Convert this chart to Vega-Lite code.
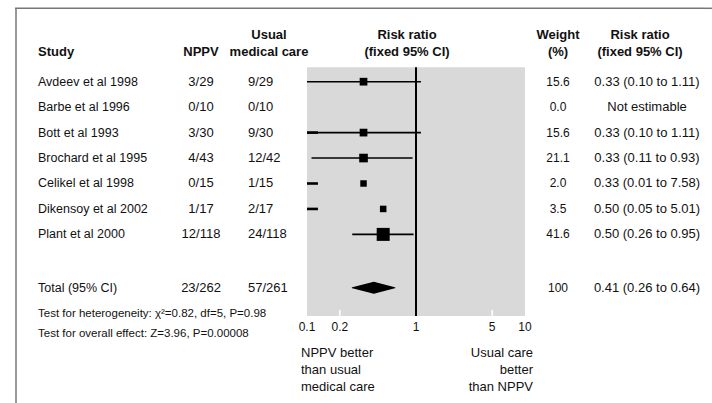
{
  "$schema": "https://vega.github.io/schema/vega-lite/v6.json",
  "padding": {"left": 14, "top": 0, "right": 0, "bottom": 0},
  "spacing": 0,
  "bounds": "flush",
  "config": {
    "view": {"stroke": null},
    "text": {"font": "Liberation Sans", "fontSize": 13, "color": "#111111"}
  },
  "datasets": {
    "studies": [
      {"study": "Avdeev et al 1998", "nppv": "3/29", "usual": "9/29", "weight": 15.6, "wt": "15.6", "rr": 0.33, "lo": 0.10, "hi": 1.11, "ci": "0.33 (0.10 to 1.11)", "row": 0, "line": true, "arrow": false, "total": false},
      {"study": "Barbe et al 1996", "nppv": "0/10", "usual": "0/10", "weight": 0, "wt": "0.0", "rr": null, "lo": null, "hi": null, "ci": "Not estimable", "row": 1, "line": false, "arrow": false, "total": false},
      {"study": "Bott et al 1993", "nppv": "3/30", "usual": "9/30", "weight": 15.6, "wt": "15.6", "rr": 0.33, "lo": 0.10, "hi": 1.11, "ci": "0.33 (0.10 to 1.11)", "row": 2, "line": true, "arrow": true, "total": false},
      {"study": "Brochard et al 1995", "nppv": "4/43", "usual": "12/42", "weight": 21.1, "wt": "21.1", "rr": 0.33, "lo": 0.11, "hi": 0.93, "ci": "0.33 (0.11 to 0.93)", "row": 3, "line": true, "arrow": false, "total": false},
      {"study": "Celikel et al 1998", "nppv": "0/15", "usual": "1/15", "weight": 2.0, "wt": "2.0", "rr": 0.33, "lo": 0.01, "hi": 7.58, "ci": "0.33 (0.01 to 7.58)", "row": 4, "line": false, "arrow": true, "total": false},
      {"study": "Dikensoy et al 2002", "nppv": "1/17", "usual": "2/17", "weight": 3.5, "wt": "3.5", "rr": 0.50, "lo": 0.05, "hi": 5.01, "ci": "0.50 (0.05 to 5.01)", "row": 5, "line": false, "arrow": true, "total": false},
      {"study": "Plant et al 2000", "nppv": "12/118", "usual": "24/118", "weight": 41.6, "wt": "41.6", "rr": 0.50, "lo": 0.26, "hi": 0.95, "ci": "0.50 (0.26 to 0.95)", "row": 6, "line": true, "arrow": false, "total": false},
      {"study": "Total (95% CI)", "nppv": "23/262", "usual": "57/261", "weight": 100, "wt": "100", "rr": 0.41, "lo": 0.26, "hi": 0.64, "ci": "0.41 (0.26 to 0.64)", "row": 8.1, "line": false, "arrow": false, "total": true}
    ],
    "ticks": [{"t": 0.1}, {"t": 0.2}, {"t": 1}, {"t": 5}, {"t": 10}]
  },
  "hconcat": [
    {
      "width": 2, "height": 403,
      "data": {"values": [{}]},
      "layer": [
        {"mark": {"type": "rule", "color": "#777777", "strokeWidth": 1.5},
         "encoding": {"y": {"datum": -2.884, "type": "quantitative", "scale": {"domain": [-3.21, 12.625], "reverse": true, "nice": false, "zero": false}, "axis": null}, "y2": {"datum": 12.625}}},
        {"mark": {"type": "rule", "color": "#777777", "strokeWidth": 1.5},
         "encoding": {"y": {"datum": -2.884, "type": "quantitative", "scale": {"domain": [-3.21, 12.625], "reverse": true, "nice": false, "zero": false}, "axis": null}}}
      ]
    },
    {
      "width": 42, "height": 403,
      "layer": [
        {"data": {"values": [{}]}, "mark": {"type": "rule", "color": "#777777", "strokeWidth": 1.5},
         "encoding": {"y": {"datum": -2.884, "type": "quantitative", "scale": {"domain": [-3.21, 12.625], "reverse": true, "nice": false, "zero": false}, "axis": null}}},
        {"data": {"values": [{"h": "Study"}]},
         "mark": {"type": "text", "align": "left", "baseline": "alphabetic", "fontWeight": "bold", "fontSize": 13},
         "encoding": {"text": {"field": "h", "type": "nominal"}, "y": {"datum": -0.99, "type": "quantitative", "scale": {"domain": [-3.21, 12.625], "reverse": true, "nice": false, "zero": false}, "axis": null}}},
        {"data": {"name": "studies"},
         "mark": {"type": "text", "align": "left", "baseline": "middle", "fontSize": 12.5},
         "encoding": {"text": {"field": "study", "type": "nominal"}, "y": {"field": "row", "type": "quantitative", "scale": {"domain": [-3.21, 12.625], "reverse": true, "nice": false, "zero": false}, "axis": null}}},
        {"data": {"values": [
          {"note": "Test for heterogeneity: χ²=0.82, df=5, P=0.98", "row": 9.147},
          {"note": "Test for overall effect: Z=3.96, P=0.00008", "row": 9.914}
         ]},
         "mark": {"type": "text", "align": "left", "baseline": "middle", "fontSize": 11.5},
         "encoding": {"text": {"field": "note", "type": "nominal"}, "y": {"field": "row", "type": "quantitative", "scale": {"domain": [-3.21, 12.625], "reverse": true, "nice": false, "zero": false}, "axis": null}}}
      ]
    },
    {
      "width": 119, "height": 403,
      "data": {"values": [{}]},
      "mark": {"type": "rule", "color": "#777777", "strokeWidth": 1.5},
      "encoding": {"y": {"datum": -2.884, "type": "quantitative", "scale": {"domain": [-3.21, 12.625], "reverse": true, "nice": false, "zero": false}, "axis": null}}
    },
    {
      "width": 46, "height": 403,
      "layer": [
        {"data": {"values": [{}]}, "mark": {"type": "rule", "color": "#777777", "strokeWidth": 1.5},
         "encoding": {"y": {"datum": -2.884, "type": "quantitative", "scale": {"domain": [-3.21, 12.625], "reverse": true, "nice": false, "zero": false}, "axis": null}}},
        {"data": {"values": [{"h": "NPPV"}]},
         "mark": {"type": "text", "align": "center", "baseline": "alphabetic", "fontWeight": "bold", "fontSize": 13},
         "encoding": {"text": {"field": "h", "type": "nominal"}, "y": {"datum": -0.99, "type": "quantitative", "scale": {"domain": [-3.21, 12.625], "reverse": true, "nice": false, "zero": false}, "axis": null}}},
        {"data": {"name": "studies"},
         "mark": {"type": "text", "align": "center", "baseline": "middle", "fontSize": 13},
         "encoding": {"text": {"field": "nppv", "type": "nominal"}, "y": {"field": "row", "type": "quantitative", "scale": {"domain": [-3.21, 12.625], "reverse": true, "nice": false, "zero": false}, "axis": null}}}
      ]
    },
    {
      "width": 48, "height": 403,
      "layer": [
        {"data": {"values": [{}]}, "mark": {"type": "rule", "color": "#777777", "strokeWidth": 1.5},
         "encoding": {"y": {"datum": -2.884, "type": "quantitative", "scale": {"domain": [-3.21, 12.625], "reverse": true, "nice": false, "zero": false}, "axis": null}}},
        {"data": {"values": [{"h": "Usual\nmedical care"}]},
         "mark": {"type": "text", "align": "center", "baseline": "alphabetic", "fontWeight": "bold", "fontSize": 13, "lineBreak": "\n", "lineHeight": 17, "dx": 21},
         "encoding": {"text": {"field": "h", "type": "nominal"}, "y": {"datum": -1.658, "type": "quantitative", "scale": {"domain": [-3.21, 12.625], "reverse": true, "nice": false, "zero": false}, "axis": null}}},
        {"data": {"name": "studies"},
         "mark": {"type": "text", "align": "left", "baseline": "middle", "fontSize": 13},
         "encoding": {"text": {"field": "usual", "type": "nominal"}, "y": {"field": "row", "type": "quantitative", "scale": {"domain": [-3.21, 12.625], "reverse": true, "nice": false, "zero": false}, "axis": null}}}
      ]
    },
    {
      "width": 35, "height": 403,
      "data": {"values": [{}]},
      "mark": {"type": "rule", "color": "#777777", "strokeWidth": 1.5},
      "encoding": {"y": {"datum": -2.884, "type": "quantitative", "scale": {"domain": [-3.21, 12.625], "reverse": true, "nice": false, "zero": false}, "axis": null}}
    },
    {
      "width": 218, "height": 403,
      "layer": [
        {"data": {"values": [{}]}, "mark": {"type": "rect", "color": "#d9d9d9"},
         "encoding": {
           "x": {"datum": 0.1, "type": "quantitative", "scale": {"type": "log", "domain": [0.1, 10], "nice": false, "clamp": true}, "axis": null},
           "x2": {"datum": 10},
           "y": {"datum": -0.566, "type": "quantitative", "scale": {"domain": [-3.21, 12.625], "reverse": true, "nice": false, "zero": false}, "axis": null},
           "y2": {"datum": 9.206}}},
        {"data": {"values": [{}]}, "mark": {"type": "rule", "color": "#777777", "strokeWidth": 1.5},
         "encoding": {"y": {"datum": -2.884, "type": "quantitative", "scale": {"domain": [-3.21, 12.625], "reverse": true, "nice": false, "zero": false}, "axis": null}}},
        {"data": {"name": "ticks"},
         "transform": [{"filter": "datum.t != 0.1 && datum.t != 1 && datum.t != 10"}],
         "mark": {"type": "rule", "color": "#ffffff", "strokeWidth": 1.5},
         "encoding": {
           "x": {"field": "t", "type": "quantitative", "scale": {"type": "log", "domain": [0.1, 10], "nice": false, "clamp": true}, "axis": null},
           "y": {"datum": 8.97, "type": "quantitative", "scale": {"domain": [-3.21, 12.625], "reverse": true, "nice": false, "zero": false}, "axis": null},
           "y2": {"datum": 9.206}}},
        {"data": {"name": "studies"},
         "transform": [{"filter": "datum.line"}],
         "mark": {"type": "rule", "color": "#000000", "strokeWidth": 1.6},
         "encoding": {
           "x": {"field": "lo", "type": "quantitative", "scale": {"type": "log", "domain": [0.1, 10], "nice": false, "clamp": true}, "axis": null},
           "x2": {"field": "hi"},
           "y": {"field": "row", "type": "quantitative", "scale": {"domain": [-3.21, 12.625], "reverse": true, "nice": false, "zero": false}, "axis": null}}},
        {"data": {"name": "studies"},
         "transform": [{"filter": "datum.arrow"}],
         "mark": {"type": "rule", "color": "#000000", "strokeWidth": 2.6},
         "encoding": {
           "x": {"datum": 0.1, "type": "quantitative", "scale": {"type": "log", "domain": [0.1, 10], "nice": false, "clamp": true}, "axis": null},
           "x2": {"datum": 0.126},
           "y": {"field": "row", "type": "quantitative", "scale": {"domain": [-3.21, 12.625], "reverse": true, "nice": false, "zero": false}, "axis": null}}},
        {"data": {"name": "studies"},
         "transform": [{"filter": "datum.rr != null && !datum.total"}],
         "mark": {"type": "point", "shape": "square", "filled": true, "color": "#000000", "opacity": 1},
         "encoding": {
           "x": {"field": "rr", "type": "quantitative", "scale": {"type": "log", "domain": [0.1, 10], "nice": false, "clamp": true}, "axis": null},
           "y": {"field": "row", "type": "quantitative", "scale": {"domain": [-3.21, 12.625], "reverse": true, "nice": false, "zero": false}, "axis": null},
           "size": {"field": "weight", "type": "quantitative", "scale": {"type": "pow", "exponent": 2, "domain": [2, 41.6], "range": [42, 169]}, "legend": null}}},
        {"data": {"name": "studies"},
         "transform": [{"filter": "datum.total"}, {"fold": ["lo", "rr", "hi"], "as": ["key", "value"]}],
         "mark": {"type": "trail", "color": "#000000"},
         "encoding": {
           "x": {"field": "value", "type": "quantitative", "scale": {"type": "log", "domain": [0.1, 10], "nice": false, "clamp": true}, "axis": null},
           "y": {"field": "row", "type": "quantitative", "scale": {"domain": [-3.21, 12.625], "reverse": true, "nice": false, "zero": false}, "axis": null},
           "order": {"field": "value", "type": "quantitative"},
           "size": {"condition": {"test": "datum.key === 'rr'", "value": 12}, "value": 0}}},
        {"data": {"values": [{}]}, "mark": {"type": "rule", "color": "#000000", "strokeWidth": 2},
         "encoding": {
           "x": {"datum": 1, "type": "quantitative", "scale": {"type": "log", "domain": [0.1, 10], "nice": false, "clamp": true}, "axis": null},
           "y": {"datum": -0.566, "type": "quantitative", "scale": {"domain": [-3.21, 12.625], "reverse": true, "nice": false, "zero": false}, "axis": null},
           "y2": {"datum": 9.206}}},
        {"data": {"values": [{"h": "Risk ratio\n(fixed 95% CI)"}]},
         "mark": {"type": "text", "align": "center", "baseline": "alphabetic", "fontWeight": "bold", "fontSize": 13, "lineBreak": "\n", "lineHeight": 17, "dx": -9},
         "encoding": {"text": {"field": "h", "type": "nominal"}, "y": {"datum": -1.658, "type": "quantitative", "scale": {"domain": [-3.21, 12.625], "reverse": true, "nice": false, "zero": false}, "axis": null}}},
        {"data": {"name": "ticks"},
         "mark": {"type": "text", "align": "center", "baseline": "middle", "fontSize": 12},
         "encoding": {
           "text": {"field": "t", "type": "quantitative", "format": "~g"},
           "x": {"field": "t", "type": "quantitative", "scale": {"type": "log", "domain": [0.1, 10], "nice": false, "clamp": true}, "axis": null},
           "y": {"datum": 9.627, "type": "quantitative", "scale": {"domain": [-3.21, 12.625], "reverse": true, "nice": false, "zero": false}, "axis": null}}},
        {"data": {"values": [{"h": "NPPV better\nthan usual\nmedical care"}]},
         "mark": {"type": "text", "align": "left", "baseline": "alphabetic", "fontSize": 13, "lineBreak": "\n", "lineHeight": 17, "dx": -6},
         "encoding": {
           "text": {"field": "h", "type": "nominal"},
           "x": {"datum": 0.1, "type": "quantitative", "scale": {"type": "log", "domain": [0.1, 10], "nice": false, "clamp": true}, "axis": null},
           "y": {"datum": 10.8, "type": "quantitative", "scale": {"domain": [-3.21, 12.625], "reverse": true, "nice": false, "zero": false}, "axis": null}}},
        {"data": {"values": [{"h": "Usual care\nbetter\nthan NPPV"}]},
         "mark": {"type": "text", "align": "right", "baseline": "alphabetic", "fontSize": 13, "lineBreak": "\n", "lineHeight": 17, "dx": 8},
         "encoding": {
           "text": {"field": "h", "type": "nominal"},
           "x": {"datum": 10, "type": "quantitative", "scale": {"type": "log", "domain": [0.1, 10], "nice": false, "clamp": true}, "axis": null},
           "y": {"datum": 10.8, "type": "quantitative", "scale": {"domain": [-3.21, 12.625], "reverse": true, "nice": false, "zero": false}, "axis": null}}}
      ]
    },
    {
      "width": 66, "height": 403,
      "layer": [
        {"data": {"values": [{}]}, "mark": {"type": "rule", "color": "#777777", "strokeWidth": 1.5},
         "encoding": {"y": {"datum": -2.884, "type": "quantitative", "scale": {"domain": [-3.21, 12.625], "reverse": true, "nice": false, "zero": false}, "axis": null}}},
        {"data": {"values": [{"h": "Weight\n(%)"}]},
         "mark": {"type": "text", "align": "center", "baseline": "alphabetic", "fontWeight": "bold", "fontSize": 13, "lineBreak": "\n", "lineHeight": 17},
         "encoding": {"text": {"field": "h", "type": "nominal"}, "y": {"datum": -1.658, "type": "quantitative", "scale": {"domain": [-3.21, 12.625], "reverse": true, "nice": false, "zero": false}, "axis": null}}},
        {"data": {"name": "studies"},
         "mark": {"type": "text", "align": "center", "baseline": "middle", "fontSize": 12},
         "encoding": {"text": {"field": "wt", "type": "nominal"}, "y": {"field": "row", "type": "quantitative", "scale": {"domain": [-3.21, 12.625], "reverse": true, "nice": false, "zero": false}, "axis": null}}}
      ]
    },
    {
      "width": 112, "height": 403,
      "layer": [
        {"data": {"values": [{}]}, "mark": {"type": "rule", "color": "#777777", "strokeWidth": 1.5},
         "encoding": {"y": {"datum": -2.884, "type": "quantitative", "scale": {"domain": [-3.21, 12.625], "reverse": true, "nice": false, "zero": false}, "axis": null}}},
        {"data": {"values": [{"h": "Risk ratio\n(fixed 95% CI)"}]},
         "mark": {"type": "text", "align": "center", "baseline": "alphabetic", "fontWeight": "bold", "fontSize": 13, "lineBreak": "\n", "lineHeight": 17, "dx": -7},
         "encoding": {"text": {"field": "h", "type": "nominal"}, "y": {"datum": -1.658, "type": "quantitative", "scale": {"domain": [-3.21, 12.625], "reverse": true, "nice": false, "zero": false}, "axis": null}}},
        {"data": {"name": "studies"},
         "mark": {"type": "text", "align": "center", "baseline": "middle", "fontSize": 13},
         "encoding": {"text": {"field": "ci", "type": "nominal"}, "y": {"field": "row", "type": "quantitative", "scale": {"domain": [-3.21, 12.625], "reverse": true, "nice": false, "zero": false}, "axis": null}}}
      ]
    },
    {
      "width": 10, "height": 403,
      "data": {"values": [{}]},
      "mark": {"type": "rule", "color": "#777777", "strokeWidth": 1.5},
      "encoding": {"y": {"datum": -2.884, "type": "quantitative", "scale": {"domain": [-3.21, 12.625], "reverse": true, "nice": false, "zero": false}, "axis": null}}
    }
  ]
}
